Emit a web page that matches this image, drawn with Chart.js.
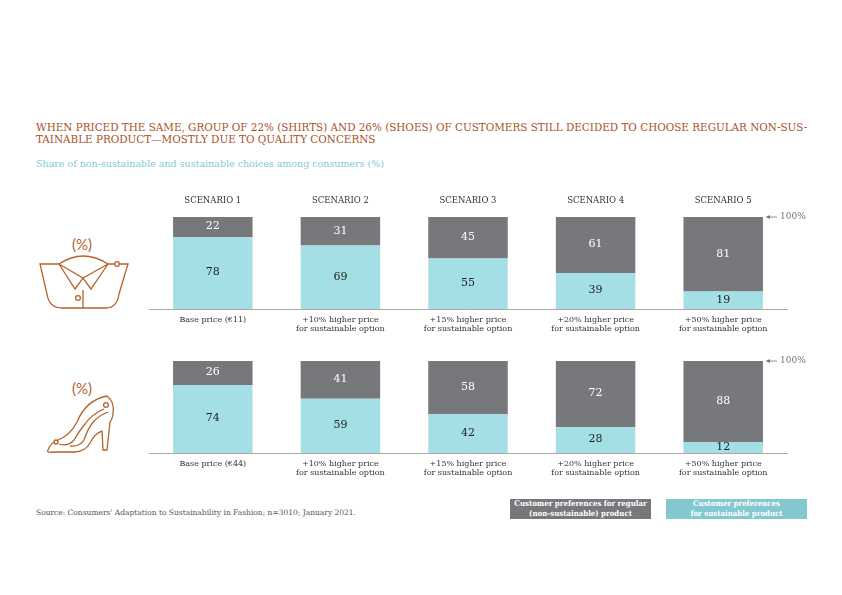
<!DOCTYPE html>
<html>
<head>
<meta charset="utf-8">
<title>Sustainable choices</title>
<script src="https://cdn.jsdelivr.net/npm/chart.js@4/dist/chart.umd.min.js"></script>
<style>
    html, body { margin: 0; padding: 0; background: #fff; }
    body { width: 842px; height: 595px; position: relative; overflow: hidden; font-family: "DejaVu Serif", serif; }
    canvas { position: absolute; left: 100px; }
    .text { position: absolute; white-space: nowrap; }
    #title { left: 36px; top: 121px; font-family: "DejaVu Serif Condensed", "DejaVu Serif", serif; font-size: 11.55px; line-height: 12px; color: #a9521f; }
    #subtitle { left: 36px; top: 157px; font-size: 9.5px; line-height: 14px; color: #7fcbd0; }
    #source { left: 36px; top: 507px; font-size: 7.5px; line-height: 12px; color: #555; }
    .legend { position: absolute; top: 499px; width: 141px; height: 20px; font-family: "DejaVu Serif Condensed", "DejaVu Serif", serif; font-size: 7.8px; font-weight: bold; line-height: 10px; color: #fff; text-align: center; white-space: nowrap; }
    #legendRegular { left: 510px; background: #77787b; }
    #legendSustainable { left: 666px; background: #82c8ce; }
    svg { position: absolute; left: 0; top: 0; }
</style>
</head>
<body>
<div class="text" id="title">WHEN PRICED THE SAME, GROUP OF 22% (SHIRTS) AND 26% (SHOES) OF CUSTOMERS STILL DECIDED TO CHOOSE REGULAR NON-SUS-<br>TAINABLE PRODUCT—MOSTLY DUE TO QUALITY CONCERNS</div>
<div class="text" id="subtitle">Share of non-sustainable and sustainable choices among consumers (%)</div>
<div class="text" id="source">Source: Consumers' Adaptation to Sustainability in Fashion; n=3010; January 2021.</div>
<div class="legend" id="legendRegular">Customer preferences for regular<br>(non-sustainable) product</div>
<div class="legend" id="legendSustainable">Customer preferences<br>for sustainable product</div>

<!-- shirt and shoe icons -->
<svg width="842" height="595" fill="none" stroke="#b5622b" stroke-width="1.3">
    <path d="M59 264 H40 L47 294 Q49 308 62 308 H106 Q117 308 119 294 L128 264 H120"/>
    <path d="M59 264 Q83 248 108 264 M59 264 L75 289 L83 278 L91 289 L108 264 M59 264 L83 278 L108 264 M83 290 V308 M108 264 H114"/>
    <circle cx="117" cy="264" r="2.4"/>
    <circle cx="78" cy="298" r="2.4"/>
    <path d="M48 450 Q50 444 56 441 Q70 436 77 422 Q86 400 107 396 Q115 402 113 414 Q112 420 110 422 L107 450 H103 L102 431 Q95 433 90 443 Q85 452 74 452 H54 Q46 453 48 450 Z"/>
    <path d="M59 444 Q68 447 74 440 Q80 430 85 424 Q92 414 104 409 M70 446 Q80 447 84 440 Q88 428 94 421 Q100 415 108 412"/>
    <circle cx="56" cy="442" r="2" fill="#fff"/>
    <circle cx="106" cy="405" r="2.4" fill="#fff"/>
    <text x="82" y="250" text-anchor="middle" fill="#b5622b" stroke="none" font-family="Lato" font-size="15">(%)</text>
    <text x="82" y="394" text-anchor="middle" fill="#b5622b" stroke="none" font-family="Lato" font-size="15">(%)</text>
</svg>

<canvas id="shirtChart" width="742" height="160" style="top:185px"></canvas>
<canvas id="shoeChart" width="742" height="144" style="top:345px"></canvas>

<script>
// Chart data
const scenarios = ['SCENARIO 1', 'SCENARIO 2', 'SCENARIO 3', 'SCENARIO 4', 'SCENARIO 5'];
const shirtPrices = ['Base price (€11)', ['+10% higher price', 'for sustainable option'], ['+15% higher price', 'for sustainable option'], ['+20% higher price', 'for sustainable option'], ['+50% higher price', 'for sustainable option']];
const shoePrices = ['Base price (€44)', ['+10% higher price', 'for sustainable option'], ['+15% higher price', 'for sustainable option'], ['+20% higher price', 'for sustainable option'], ['+50% higher price', 'for sustainable option']];
const shirtSustainable = [78, 69, 55, 39, 19];
const shirtRegular = [22, 31, 45, 61, 81];
const shoeSustainable = [74, 59, 42, 28, 12];
const shoeRegular = [26, 41, 58, 72, 88];

const serif = '"DejaVu Serif", serif';

// Draw the value inside each bar segment
const valueLabels = {
    id: 'valueLabels',
    afterDatasetsDraw(chart) {
        const ctx = chart.ctx;
        ctx.save();
        ctx.font = '11px ' + serif;
        ctx.textAlign = 'center';
        ctx.textBaseline = 'middle';
        chart.data.datasets.forEach((dataset, d) => {
            ctx.fillStyle = d === 0 ? '#222' : '#fff';
            chart.getDatasetMeta(d).data.forEach((bar, i) => {
                ctx.fillText(dataset.data[i], bar.x, (bar.y + bar.base) / 2 - 0.5);
            });
        });
        ctx.restore();
    }
};

// "100%" marker to the right of the last bar
const fullMark = {
    id: 'fullMark',
    afterDraw(chart) {
        const ctx = chart.ctx;
        const y = chart.scales.y.getPixelForValue(100);
        const x = chart.chartArea.right - 21;
        ctx.save();
        ctx.strokeStyle = '#777';
        ctx.fillStyle = '#777';
        ctx.lineWidth = 0.8;
        ctx.beginPath();
        ctx.moveTo(x, y);
        ctx.lineTo(x + 11, y);
        ctx.stroke();
        ctx.beginPath();
        ctx.moveTo(x, y);
        ctx.lineTo(x + 4, y - 2);
        ctx.lineTo(x + 4, y + 2);
        ctx.fill();
        ctx.font = '9px ' + serif;
        ctx.textBaseline = 'middle';
        ctx.fillText('100%', x + 14, y);
        ctx.restore();
    }
};

function buildChart(id, prices, sustainable, regular, topHeight, bottomHeight, paddingTop, topLabels) {
    const scales = {
        x: {
            stacked: true,
            offset: true,
            grid: { display: false },
            border: { color: '#aaa', width: 1 },
            ticks: { color: '#333', font: { family: serif, size: 8, lineHeight: 1.12 }, maxRotation: 0, autoSkip: false, padding: -2 },
            afterFit: (axis) => { axis.height = bottomHeight; }
        },
        y: { stacked: true, display: false, min: 0, max: 100 }
    };
    if (topLabels) {
        scales.top = {
            type: 'category',
            position: 'top',
            labels: topLabels,
            offset: true,
            grid: { display: false },
            border: { display: false },
            ticks: { color: '#333', font: { family: serif, size: 8.5 }, maxRotation: 0, autoSkip: false },
            afterFit: (axis) => { axis.height = topHeight; }
        };
    }
    return new Chart(document.getElementById(id), {
        type: 'bar',
        data: {
            labels: prices,
            datasets: [
                { label: 'Customer preferences for sustainable product', data: sustainable, backgroundColor: '#a5dfe6', categoryPercentage: 1, barPercentage: 0.623 },
                { label: 'Customer preferences for regular (non-sustainable) product', data: regular, backgroundColor: '#77787b', categoryPercentage: 1, barPercentage: 0.623 }
            ]
        },
        options: {
            responsive: false,
            animation: false,
            layout: { padding: { left: 49, right: 55, top: paddingTop, bottom: 0 } },
            plugins: { legend: { display: false }, tooltip: { enabled: false } },
            scales: scales
        },
        plugins: [valueLabels, fullMark]
    });
}

buildChart('shirtChart', shirtPrices, shirtSustainable, shirtRegular, 32, 36, 0, scenarios);
buildChart('shoeChart', shoePrices, shoeSustainable, shoeRegular, 0, 36, 16, null);
</script>
</body>
</html>
